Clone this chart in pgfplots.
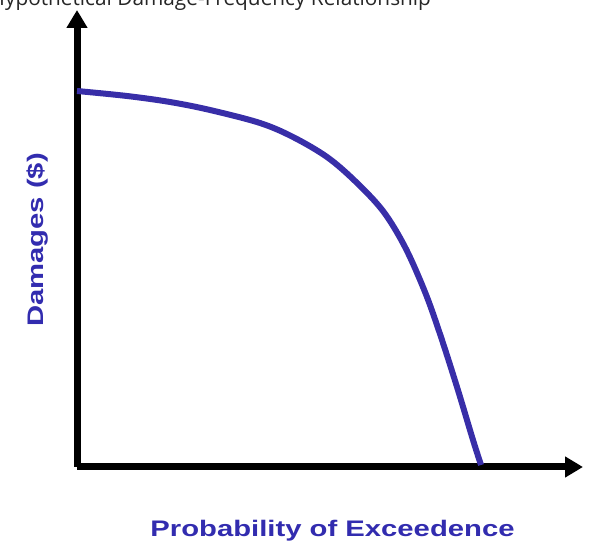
\documentclass[border=0pt]{standalone}
\usepackage{pgfplots}
\pgfplotsset{compat=1.18}
\usetikzlibrary{arrows.meta}
\usepackage{fontspec}
\setmainfont{Liberation Sans}
\newfontfamily\labelfont[FakeStretch=1.3]{Liberation Sans Bold}
\newfontfamily\titlefont{Open Sans}
\definecolor{curveblue}{RGB}{56,46,168}
\definecolor{labelblue}{RGB}{50,44,175}
\begin{document}
\begin{tikzpicture}[x=1pt,y=1pt]
\useasboundingbox (0,0) rectangle (589,546);
\begin{axis}[
  at={(77pt,79pt)}, anchor=south west,
  scale only axis, width=506pt, height=457pt,
  xmin=0, xmax=506, ymin=0, ymax=457,
  axis lines=left, ticks=none,
  axis line style={line width=7pt, black, -{Triangle[length=18pt,width=20pt]}},
  clip=false]
\addplot[curveblue, line width=6pt, smooth, tension=0.55] coordinates {
(0,376) (50,371) (93,365) (133,357) (183,344) (216,330) (250,310)
(278,286) (306,256) (328,220) (348,175) (363,133) (380,80) (396,27) (404,2)
};
\end{axis}
\node[anchor=base, text=labelblue, font=\labelfont\fontsize{22.5}{27}\selectfont, inner sep=0pt] at (332.5,9) {Probability of Exceedence};
\node[anchor=base, rotate=90, text=labelblue, font=\labelfont\fontsize{22.5}{27}\selectfont, inner sep=0pt] at (43.5,306) {Damages (\$)};
\node[anchor=base west, inner sep=0pt, text=black!85, font=\titlefont\fontsize{20.8}{25}\selectfont] at (-10.5,540.8) {Hypothetical Damage-Frequency Relationship};
\end{tikzpicture}
\end{document}
